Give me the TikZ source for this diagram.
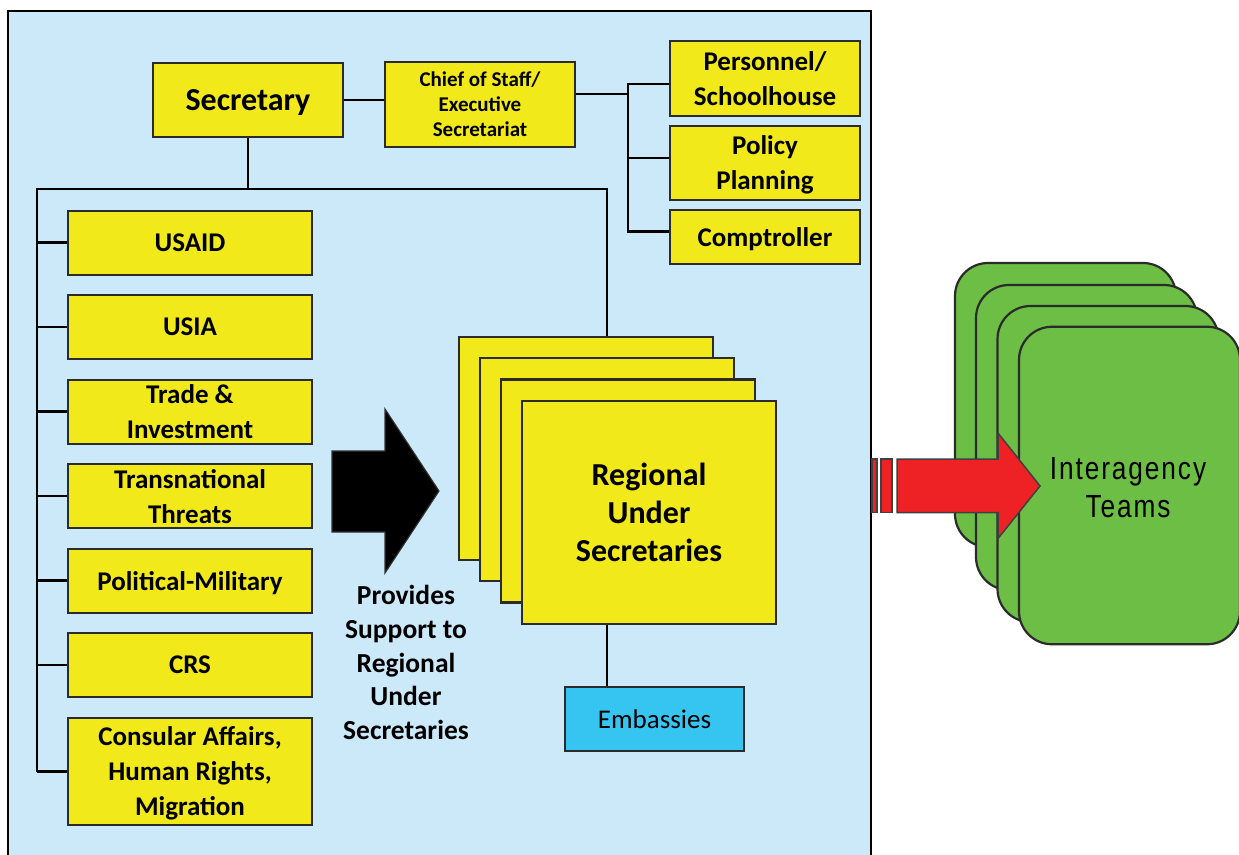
\documentclass[tikz,border=0pt]{standalone}
\usepackage{fontspec}
\setmainfont{Carlito}
\newfontfamily\iafont[LetterSpace=6,FakeStretch=0.82]{Liberation Sans}
\definecolor{panelblue}{HTML}{CCE9FA}
\definecolor{yel}{HTML}{F1E91A}
\definecolor{grn}{HTML}{6CBE45}
\definecolor{redar}{HTML}{EE2224}
\definecolor{cyanbox}{HTML}{36C5F0}
\definecolor{edge}{HTML}{2B2B2B}
\begin{document}
\begin{tikzpicture}[x=1pt,y=-1pt,
  conn/.style={line width=2.4pt, black, line join=miter},
  ybox/.style={draw=edge, line width=2pt, fill=yel, align=center, inner sep=0pt,
    text depth=0pt, font=\bfseries\fontsize{27}{35}\selectfont},
  lbox/.style={ybox, minimum width=244pt, minimum height=64pt},
  rbox/.style={ybox, minimum width=190pt},
  card/.style={draw=edge, line width=2.2pt, fill=yel, minimum width=254pt,
    minimum height=223pt, inner sep=0pt},
  gcard/.style={draw=edge, line width=2.2pt, fill=grn, rounded corners=33pt,
    minimum width=221pt, inner sep=0pt},
  redpart/.style={fill=redar, draw=black!75, line width=1.5pt, line join=miter}
]
\fill[white] (0,0) rectangle (1239,854);
\useasboundingbox (0,0) rectangle (1239,854);

% panel
\draw[fill=panelblue, draw=black, line width=2pt] (8,870) -- (8,11) -- (871,11) -- (871,870);

% coordinates for junctions
\coordinate (hl) at (37,189);
\coordinate (hr) at (607,189);
\coordinate (cj) at (628,94);
\coordinate (b1) at (628,84);
\coordinate (b2) at (628,158);
\coordinate (b3) at (628,231.5);

% top boxes
\node[ybox, minimum width=190pt, minimum height=74pt,
  font=\bfseries\fontsize{32}{38}\selectfont] (sec) at (248,100) {Secretary};
\node[ybox, minimum width=190pt, minimum height=85pt,
  font=\bfseries\fontsize{21}{25}\selectfont] (cos) at (480,104.5)
  {Chief of Staff/\\Executive\\Secretariat};
\node[rbox, minimum height=75pt] (pers) at (765,78.5) {Personnel/\\Schoolhouse};
\node[rbox, minimum height=74pt] (pol) at (765,163) {Policy\\Planning};
\node[rbox, minimum height=54pt] (comp) at (765,237.3) {Comptroller};

% left boxes
\node[lbox] (usaid) at (190,242.5) {USAID};
\node[lbox] (usia) at (190,327) {USIA};
\node[lbox] (trade) at (190,411.5) {Trade \&\\Investment};
\node[lbox] (trans) at (190,496) {Transnational\\Threats};
\node[lbox] (polmil) at (190,580.5) {Political-Military};
\node[lbox] (crs) at (190,665) {CRS};
\node[lbox, minimum height=107pt] (ca) at (190,771.5) {Consular Affairs,\\Human Rights,\\Migration};

% connectors
\draw[conn] (sec.east) -- (sec.east -| cos.west);
\draw[conn] (cos.east |- cj) -- (cj);
\draw[conn] (pers.west |- b1) -- (b1) -- (b3) -- (comp.west |- b3);
\draw[conn] (b2) -- (pol.west |- b2);
\draw[conn] (sec.south) -- (sec.south |- hl);
\draw[conn] (hl |- ca.west) -- (hl) -- (hr) -- (hr |- 0,338);
\foreach \n in {usaid,usia,trade,trans,polmil,crs,ca}
  \draw[conn] (hl |- \n.west) -- (\n.west);

% black arrow
\draw[fill=black, draw=black!80, line width=1.2pt, line join=miter]
  (332,451) -- (385,451) -- (385,409) -- (439,491) -- (385,573) -- (385,532) -- (332,532) -- cycle;

% regional cards
\node[card] (reg1) at (586,448.5) {};
\node[card] (reg2) at (607,469.5) {};
\node[card] (reg3) at (628,491) {};
\node[card, align=center, font=\bfseries\fontsize{32}{38}\selectfont] (reg4) at (649,512.5)
  {Regional\\Under\\Secretaries};

\node[align=center, inner sep=0pt, font=\bfseries\fontsize{27.5}{33.7}\selectfont] (prov) at (406,662.5)
  {Provides\\Support to\\Regional\\Under\\Secretaries};

\node[draw=edge, line width=2pt, fill=cyanbox, minimum width=179pt, minimum height=64pt,
  inner sep=0pt, font=\fontsize{27}{33}\selectfont] (emb) at (654.5,719) {Embassies};
\draw[conn] (reg4.south -| hr) -- (emb.north -| hr);

% green cards
\node[gcard, minimum height=284pt] (g1) at (1065.5,405) {};
\node[gcard, minimum height=305pt] (g2) at (1086.5,437.5) {};
\node[gcard, minimum height=316pt] (g3) at (1108,464) {};
\node[gcard, minimum height=317.5pt] (g4) at (1129.5,485.5) {};
\node[align=center, inner sep=0pt, font=\iafont\fontsize{32}{38}\selectfont]
  (ia) at (1128,488) {Interagency\\Teams};

% red arrow
\draw[redpart] (872,459) rectangle (877,512.5);
\draw[redpart] (881,459) rectangle (892,512.5);
\draw[redpart] (897,459) -- (998,459) -- (998,433) -- (1040,486) -- (998,538.5)
  -- (998,512.5) -- (897,512.5) -- cycle;
\end{tikzpicture}
\end{document}
